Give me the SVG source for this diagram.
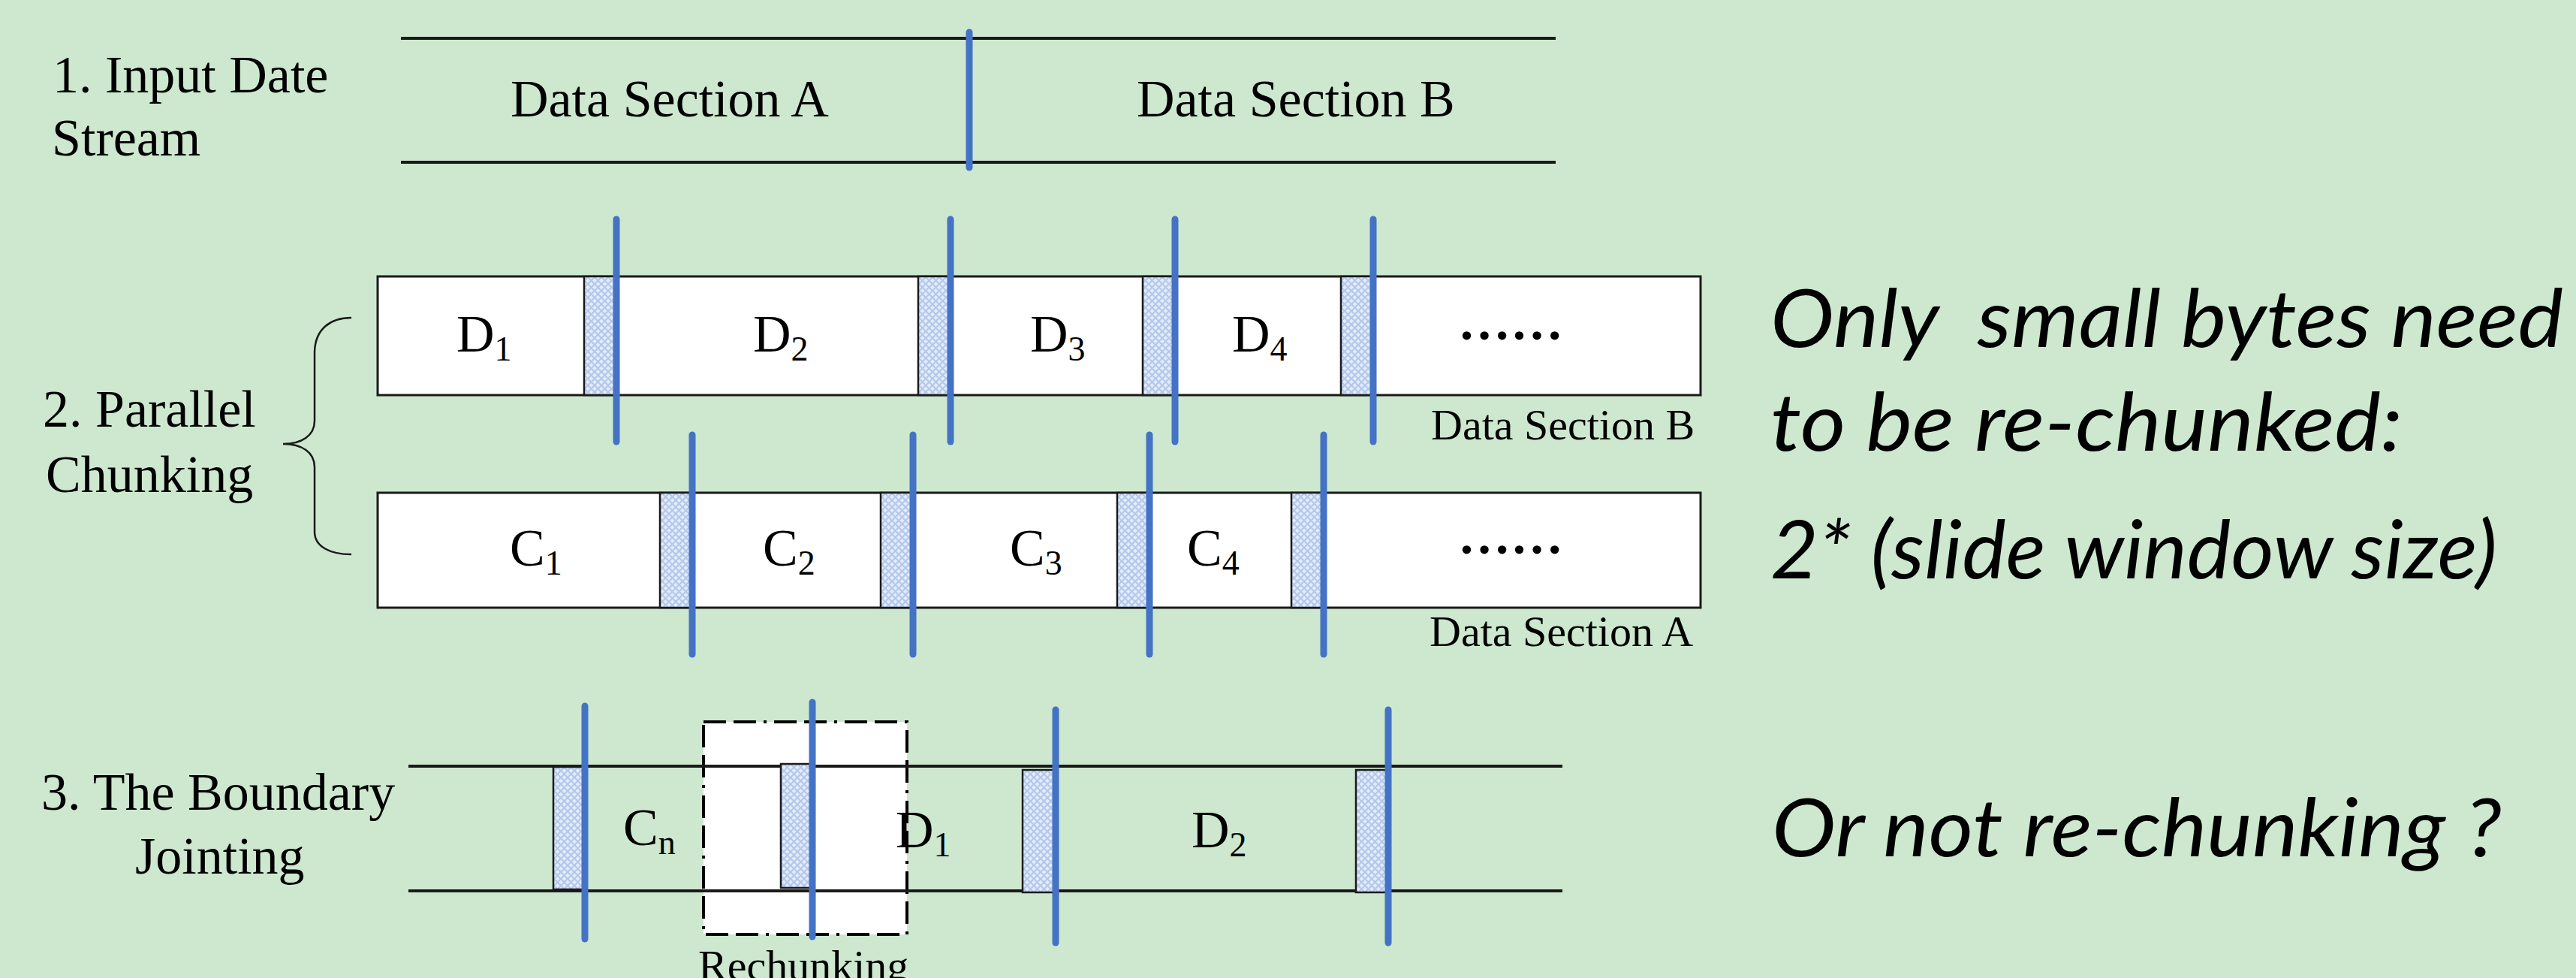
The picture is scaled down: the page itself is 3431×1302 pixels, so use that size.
<svg xmlns="http://www.w3.org/2000/svg" width="3431" height="1302" viewBox="0 0 3431 1302">
  <defs>
    <!-- light blue cross-hatch used for the sliding-window overlap blocks -->
    <pattern id="hatch" width="9" height="9" patternUnits="userSpaceOnUse">
      <rect width="9" height="9" fill="#e4ecfa"/>
      <path d="M0,0 L9,9 M9,0 L0,9" stroke="#b4c8ec" stroke-width="2.2"/>
    </pattern>
    <style>
      .serif { font-family: "Liberation Serif", "Times New Roman", serif; fill: #000; }
      .lbl { font-size: 70px; }
      .small { font-size: 58px; }
      .sub { font-size: 46px; }
      .note { font-family: Lato, "Open Sans", sans-serif; font-style: italic; font-size: 106px; fill: #000; }
      .rail { stroke: #1a1a1a; stroke-width: 4; fill: none; }
      .bar { fill: #ffffff; stroke: #1a1a1a; stroke-width: 3; }
      .win { fill: url(#hatch); stroke: #1a1a1a; stroke-width: 2.5; }
      .cut { stroke: #4472c4; stroke-width: 9; stroke-linecap: round; fill: none; }
      .brace { stroke: #1a1a1a; stroke-width: 2.5; fill: none; }
    </style>
  </defs>

  <rect width="3431" height="1302" fill="#cde8cf"/>

  <!-- step labels -->
  <g id="step-labels" class="serif lbl">
    <text x="70" y="123">1. Input Date</text>
    <text x="69" y="207">Stream</text>
    <text x="57" y="568">2. Parallel</text>
    <text x="61" y="655">Chunking</text>
    <text x="55" y="1078">3. The Boundary</text>
    <text x="180" y="1163">Jointing</text>
  </g>

  <!-- 1. input stream -->
  <g id="input-stream">
    <line class="rail" x1="534" y1="51" x2="2072" y2="51"/>
    <line class="rail" x1="534" y1="216" x2="2072" y2="216"/>
    <text class="serif lbl" x="680" y="155">Data Section A</text>
    <text class="serif lbl" x="1514" y="155">Data Section B</text>
  </g>

  <!-- brace grouping the two parallel sections -->
  <path id="brace" class="brace" d="M468,423 C440,423 420,438 419,468 L419,560 C419,580 402,591 377,591 C402,591 419,602 419,622 L419,708 C419,728 440,738 468,738"/>

  <!-- 2a. section B chunks -->
  <g id="section-b">
    <rect class="bar" x="503" y="368" width="1762" height="158"/>
    <rect class="win" x="778" y="368" width="43" height="158"/>
    <rect class="win" x="1223" y="368" width="43" height="158"/>
    <rect class="win" x="1522" y="368" width="43" height="158"/>
    <rect class="win" x="1786" y="368" width="43" height="158"/>
    <g class="serif lbl">
      <text x="608" y="468">D<tspan class="sub" dy="12">1</tspan></text>
      <text x="1003" y="468">D<tspan class="sub" dy="12">2</tspan></text>
      <text x="1372" y="468">D<tspan class="sub" dy="12">3</tspan></text>
      <text x="1641" y="468">D<tspan class="sub" dy="12">4</tspan></text>
      <text x="1942" y="452" font-weight="bold">……</text>
    </g>
    <text class="serif small" x="1906" y="585">Data Section B</text>
  </g>

  <!-- 2b. section A chunks -->
  <g id="section-a">
    <rect class="bar" x="503" y="656" width="1762" height="153"/>
    <rect class="win" x="879" y="656" width="43" height="153"/>
    <rect class="win" x="1173" y="656" width="43" height="153"/>
    <rect class="win" x="1488" y="656" width="43" height="153"/>
    <rect class="win" x="1720" y="656" width="43" height="153"/>
    <g class="serif lbl">
      <text x="679" y="753">C<tspan class="sub" dy="12">1</tspan></text>
      <text x="1016" y="753">C<tspan class="sub" dy="12">2</tspan></text>
      <text x="1345" y="753">C<tspan class="sub" dy="12">3</tspan></text>
      <text x="1581" y="753">C<tspan class="sub" dy="12">4</tspan></text>
      <text x="1942" y="737" font-weight="bold">……</text>
    </g>
    <text class="serif small" x="1904" y="860">Data Section A</text>
  </g>

  <!-- 3. joint of the two sections -->
  <g id="rechunk-window">
    <rect x="937" y="961" width="271" height="283" fill="#ffffff" stroke="#000" stroke-width="4" stroke-dasharray="30 10 30 10 4 10"/>
    <text class="serif small" x="930" y="1305">Rechunking</text>
  </g>
  <g id="joint-stream">
    <line class="rail" x1="544" y1="1020" x2="2081" y2="1020" stroke-width="3"/>
    <line class="rail" x1="544" y1="1186" x2="2081" y2="1186" stroke-width="3"/>
    <rect class="win" x="737" y="1021" width="42" height="163"/>
    <rect class="win" x="1040" y="1017" width="42" height="165"/>
    <rect class="win" x="1362" y="1025" width="44" height="163"/>
    <rect class="win" x="1806" y="1025" width="43" height="163"/>
    <g class="serif lbl">
      <text x="830" y="1125">C<tspan class="sub" dy="12">n</tspan></text>
      <text x="1193" y="1128">D<tspan class="sub" dy="12">1</tspan></text>
      <text x="1587" y="1128">D<tspan class="sub" dy="12">2</tspan></text>
    </g>
  </g>

  <!-- chunk boundaries -->
  <g id="boundaries" class="cut">
    <line x1="1291" y1="43" x2="1291" y2="223"/>
    <line x1="821" y1="292" x2="821" y2="588"/>
    <line x1="1266" y1="292" x2="1266" y2="588"/>
    <line x1="1565" y1="292" x2="1565" y2="588"/>
    <line x1="1829" y1="292" x2="1829" y2="588"/>
    <line x1="922" y1="579" x2="922" y2="871"/>
    <line x1="1216" y1="579" x2="1216" y2="871"/>
    <line x1="1531" y1="579" x2="1531" y2="871"/>
    <line x1="1763" y1="579" x2="1763" y2="871"/>
    <line x1="779" y1="940" x2="779" y2="1250"/>
    <line x1="1082" y1="935" x2="1082" y2="1247"/>
    <line x1="1406" y1="945" x2="1406" y2="1255"/>
    <line x1="1849" y1="945" x2="1849" y2="1255"/>
  </g>

  <!-- remarks -->
  <g id="remarks" class="note">
    <text x="2358" y="462" textLength="1056" lengthAdjust="spacingAndGlyphs" xml:space="preserve">Only  small bytes need</text>
    <text x="2358" y="600" textLength="842" lengthAdjust="spacingAndGlyphs">to be re-chunked:</text>
    <text x="2358" y="770" textLength="968" lengthAdjust="spacingAndGlyphs">2* (slide window size)</text>
    <text x="2360" y="1140" textLength="972" lengthAdjust="spacingAndGlyphs">Or not re-chunking ?</text>
  </g>
</svg>
